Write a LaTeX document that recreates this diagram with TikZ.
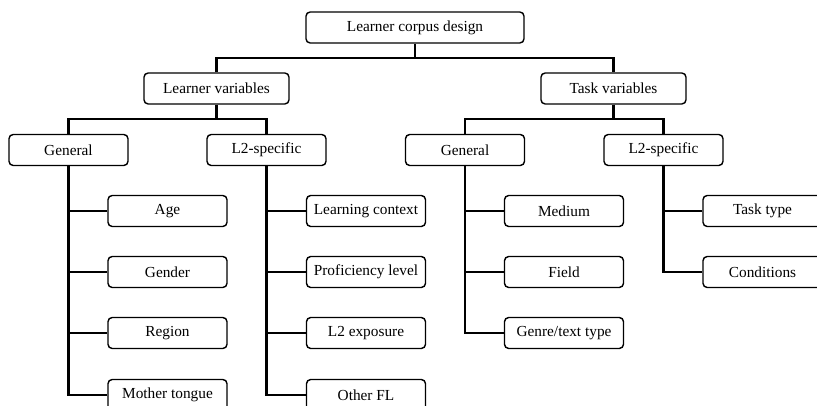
\documentclass[tikz,border=0pt]{standalone}
\usepackage{fontspec}
\setmainfont{Liberation Serif}
\usetikzlibrary{positioning}

\tikzset{
  box/.style={draw, line width=1pt, rounded corners=3pt, inner sep=1pt,
    minimum height=0.775cm, font=\fontsize{10.9}{13}\selectfont},
  topbox/.style={box, minimum width=5.45cm},
  midbox/.style={box, minimum width=3.625cm},
  subbox/.style={box, minimum width=2.975cm},
  link/.style={line width=1.5pt}
}

\begin{document}
\begin{tikzpicture}[x=0.025cm, y=-0.025cm]
    \useasboundingbox (0,0) rectangle (817,406);
    \clip (0,0) rectangle (817,406);

      \node(root) at (415,27.5) [topbox] {Learner corpus design};

      \node(lv) at (216.5,88.5) [midbox] {Learner variables};
      \node(tv) at (613.5,88.5) [midbox] {Task variables};

      \node(lgen) at (68.5,150) [subbox] {General};
      \node(lspec) at (266.5,150) [subbox] {L2-specific};
      \node(tgen) at (465,150) [subbox] {General};
      \node(tspec) at (663.5,150) [subbox] {L2-specific};

      \node(age) at (167.5,211) [subbox] {Age};
      \node(gender) at (167.5,272) [subbox] {Gender};
      \node(region) at (167.5,333) [subbox] {Region};
      \node(tongue) at (167.5,395) [subbox] {Mother tongue};

      \node(context) at (366,211) [subbox] {Learning context};
      \node(level) at (366,272) [subbox] {Proficiency level};
      \node(exposure) at (366,333) [subbox] {L2 exposure};
      \node(otherfl) at (366,395) [subbox] {Other FL};

      \node(medium) at (564,211) [subbox] {Medium};
      \node(field) at (564,272) [subbox] {Field};
      \node(genre) at (564,333) [subbox] {Genre/text type};

      \node(tasktype) at (762.5,211) [subbox] {Task type};
      \node(cond) at (762.5,272) [subbox] {Conditions};

    \draw[link] (root.south) -- ++(0,14) coordinate(rootfork);
    \draw[link] (lv.north) |- (rootfork) -| (tv.north);

    \draw[link] (lv.south) -- ++(0,14) coordinate(lvfork);
    \draw[link] (lgen.north) |- (lvfork) -| (lspec.north);
    \draw[link] (tv.south) -- ++(0,14) coordinate(tvfork);
    \draw[link] (tgen.north) |- (tvfork) -| (tspec.north);

    \foreach \leaf in {age,gender,region,tongue}
      \draw[link] (lgen.south) |- (\leaf.west);
    \foreach \leaf in {context,level,exposure,otherfl}
      \draw[link] (lspec.south) |- (\leaf.west);
    \foreach \leaf in {medium,field,genre}
      \draw[link] (tgen.south) |- (\leaf.west);
    \foreach \leaf in {tasktype,cond}
      \draw[link] (tspec.south) |- (\leaf.west);
  \end{tikzpicture}
\end{document}
